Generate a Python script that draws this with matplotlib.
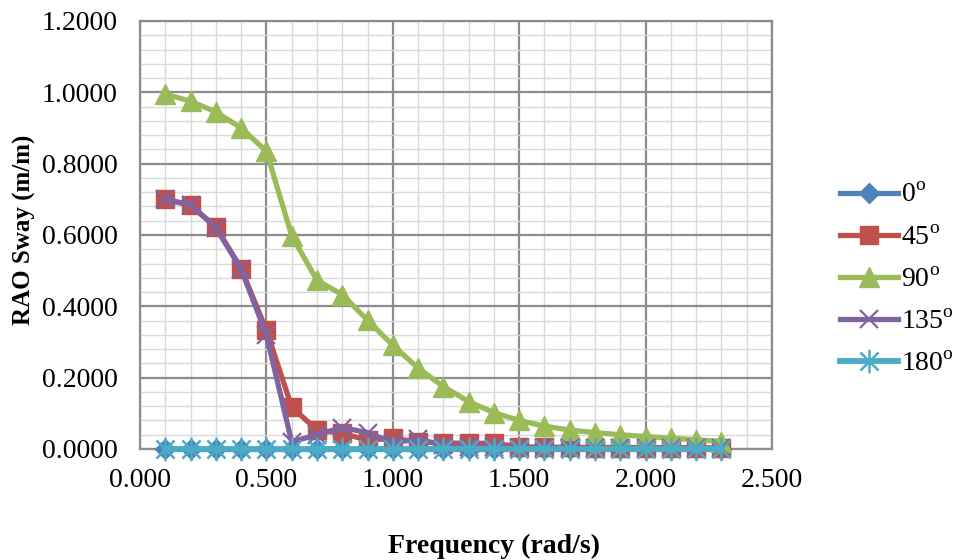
import matplotlib
matplotlib.use("Agg")
import matplotlib.pyplot as plt
from matplotlib.path import Path
from matplotlib.ticker import MultipleLocator, FormatStrFormatter

plt.rcParams['font.family'] = ['Liberation Serif', 'DejaVu Serif']
plt.rcParams['mathtext.fontset'] = 'custom'
plt.rcParams['mathtext.rm'] = 'Liberation Serif'

freq = [0.1, 0.2, 0.3, 0.4, 0.5, 0.6, 0.7, 0.8, 0.9, 1.0, 1.1, 1.2,
        1.3, 1.4, 1.5, 1.6, 1.7, 1.8, 1.9, 2.0, 2.1, 2.2, 2.3]

rao_0 = [0.001] * 23
rao_45 = [0.700, 0.683, 0.623, 0.506, 0.333, 0.118, 0.053, 0.044, 0.025, 0.030,
          0.020, 0.017, 0.016, 0.016, 0.006, 0.005, 0.005, 0.004, 0.004, 0.004,
          0.004, 0.003, 0.003]
rao_90 = [0.995, 0.975, 0.945, 0.900, 0.835, 0.598, 0.473, 0.433, 0.361, 0.291,
          0.227, 0.175, 0.133, 0.102, 0.080, 0.064, 0.053, 0.046, 0.040, 0.035,
          0.030, 0.026, 0.021]
rao_135 = [0.700, 0.685, 0.620, 0.505, 0.320, 0.020, 0.040, 0.060, 0.046, 0.018,
           0.028, 0.010, 0.006, 0.005, 0.004, 0.004, 0.003, 0.003, 0.003, 0.003,
           0.003, 0.002, 0.002]
rao_180 = [0.001] * 23

labels = [r'0$^{\mathrm{o}}$', r'45$^{\mathrm{o}}$', r'90$^{\mathrm{o}}$',
          r'135$^{\mathrm{o}}$', r'180$^{\mathrm{o}}$']

star = Path([(-1, -1), (1, 1), (-1, 1), (1, -1), (0, -1.3), (0, 1.3)],
            [Path.MOVETO, Path.LINETO, Path.MOVETO, Path.LINETO, Path.MOVETO, Path.LINETO])

fig = plt.figure(figsize=(9.54, 5.6), dpi=100)
ax = fig.add_axes([140/954, 1 - 449/560, (772-140)/954, (449-21)/560])

lw = 3.8
ax.plot(freq, rao_0, color='#4F81BD', lw=lw, marker='D', ms=10, mec='#4F81BD',
        label=labels[0], zorder=3, clip_on=False)
ax.plot(freq, rao_45, color='#C0504D', lw=lw, marker='s', ms=13, mec='#C0504D',
        label=labels[1], zorder=4, clip_on=False)
ax.plot(freq, rao_90, color='#9BBB59', lw=lw, marker='^', ms=14, mec='#9BBB59',
        label=labels[2], zorder=5, clip_on=False)
ax.plot(freq, rao_135, color='#8064A2', lw=lw, marker='x', ms=13, mew=1.6, mec='#8064A2',
        label=labels[3], zorder=6, clip_on=False)
ax.plot(freq, rao_180, color='#4BACC6', lw=lw + 0.4, marker=star, ms=17, mew=1.8, mec='#4BACC6',
        label=labels[4], zorder=7, clip_on=False)

ax.set_xlim(0, 2.5)
ax.set_ylim(0, 1.2)
ax.xaxis.set_major_locator(MultipleLocator(0.5))
ax.xaxis.set_minor_locator(MultipleLocator(0.1))
ax.yaxis.set_major_locator(MultipleLocator(0.2))
ax.yaxis.set_minor_locator(MultipleLocator(0.04))
ax.xaxis.set_major_formatter(FormatStrFormatter('%.3f'))
ax.yaxis.set_major_formatter(FormatStrFormatter('%.4f'))
ax.grid(which='major', color='#8c8c8c', lw=1.6, zorder=1)
ax.grid(which='minor', color='#d9d9d9', lw=1.0, zorder=0)
ax.set_axisbelow(True)
for s in ax.spines.values():
    s.set_color('#8c8c8c')
    s.set_linewidth(1.6)
ax.tick_params(which='both', length=0, labelsize=20)
ax.tick_params(axis='y', pad=16)
ax.tick_params(axis='x', pad=14)

fig.text(24/954, 1 - 230/560, 'RAO Sway (m/m)', fontsize=18, fontweight='bold',
         rotation=90, ha='center', va='center')
fig.text(494/954, 1 - 546/560, 'Frequency (rad/s)', fontsize=20, fontweight='bold',
         ha='center', va='center')

leg = ax.legend(loc='center left', bbox_to_anchor=(840/954, 1 - 280/560),
                bbox_transform=fig.transFigure, frameon=False, fontsize=20,
                handlelength=2.1, labelspacing=0.6, handletextpad=0.1,
                borderaxespad=0, borderpad=0)

fig.savefig('out.png', dpi=100)
